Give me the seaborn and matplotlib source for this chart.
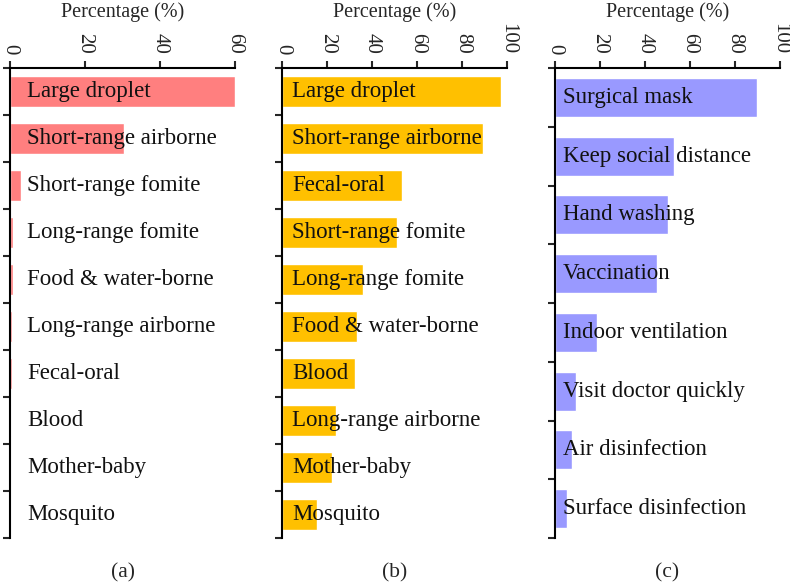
import matplotlib
matplotlib.use("Agg")
import matplotlib.pyplot as plt
import seaborn as sns
import pandas as pd
import numpy as np

sns.set_style("white")
plt.rcParams['font.family'] = ['Liberation Serif', 'DejaVu Serif']

routes_a = ["Large droplet", "Short-range airborne", "Short-range fomite", "Long-range fomite",
            "Food & water-borne", "Long-range airborne", "Fecal-oral", "Blood", "Mother-baby", "Mosquito"]
values_a = [60.0, 30.5, 3.0, 0.7, 0.7, 0.5, 0.4, 0.3, 0.0, 0.0]

routes_b = ["Large droplet", "Short-range airborne", "Fecal-oral", "Short-range fomite", "Long-range fomite",
            "Food & water-borne", "Blood", "Long-range airborne", "Mother-baby", "Mosquito"]
values_b = [97.0, 89.3, 53.1, 50.9, 35.7, 33.1, 32.3, 23.8, 22.2, 15.2]

measures_c = ["Surgical mask", "Keep social distance", "Hand washing", "Vaccination",
              "Indoor ventilation", "Visit doctor quickly", "Air disinfection", "Surface disinfection"]
values_c = [89.9, 52.9, 50.1, 45.5, 18.5, 9.3, 7.4, 5.2]

ticks_a = [0, 20, 40, 60]
ticks_bc = [0, 20, 40, 60, 80, 100]
panel_labels = ["(a)", "(b)", "(c)"]
colors = ["#FF7F7F", "#FFC000", "#9999FF"]

fig = plt.figure(figsize=(7.9, 5.84), dpi=100)
W, H = 790, 584
bottom_px, top_px = 538, 68
lefts = [10, 282.3, 555]
width_px = 225
ax_h = bottom_px - top_px

panels = [
    (routes_a, values_a, (0, 60), ticks_a, 17),
    (routes_b, values_b, (0, 100), ticks_bc, 10),
    (measures_c, values_c, (0, 100), ticks_bc, 8),
]

for i, (cats, vals, xlim, ticks, txt_off) in enumerate(panels):
    ax = fig.add_axes([lefts[i] / W, (H - bottom_px) / H, width_px / W, ax_h / H])
    df = pd.DataFrame({"cat": cats, "val": vals})
    sns.barplot(data=df, x="val", y="cat", color=colors[i], saturation=1, width=0.66,
                orient="h", ax=ax)
    n = len(cats)
    ax.set_xlim(*xlim)
    ax.set_ylim(n - 0.5, -0.5)
    ax.xaxis.tick_top()
    ax.set_xticks(ticks)
    ax.set_xticklabels([str(t) for t in ticks], rotation=-90, fontsize=15)
    ax.set_xlabel("Percentage (%)", fontsize=14.5)
    ax.xaxis.set_label_position("top")
    ax.xaxis.set_label_coords(0.5, 1 + 56 / ax_h)
    ax.xaxis.label.set_va("center")
    ax.set_ylabel("")
    ax.set_yticks([])
    ax.set_yticks(np.arange(-0.5, n, 1.0), minor=True)
    ax.tick_params(axis="y", which="minor", direction="out", length=5, width=1.5, left=True)
    ax.tick_params(axis="x", which="major", direction="out", length=5, width=1.5, top=True, bottom=False, pad=5)
    for s in ["right", "bottom"]:
        ax.spines[s].set_visible(False)
    for s in ["left", "top"]:
        ax.spines[s].set_visible(True)
        ax.spines[s].set_linewidth(1.5)
        ax.spines[s].set_color("black")
    for j, c in enumerate(cats):
        ax.annotate(c, xy=(0, j), xytext=(txt_off, 0), textcoords="offset pixels",
                    ha="left", va="center", fontsize=16.5, color="#111111")
    fig.text((lefts[i] + width_px / 2) / W, 1 - 573 / H, panel_labels[i],
             ha="center", va="center", fontsize=15.5)

fig.savefig("out.png", dpi=100)
